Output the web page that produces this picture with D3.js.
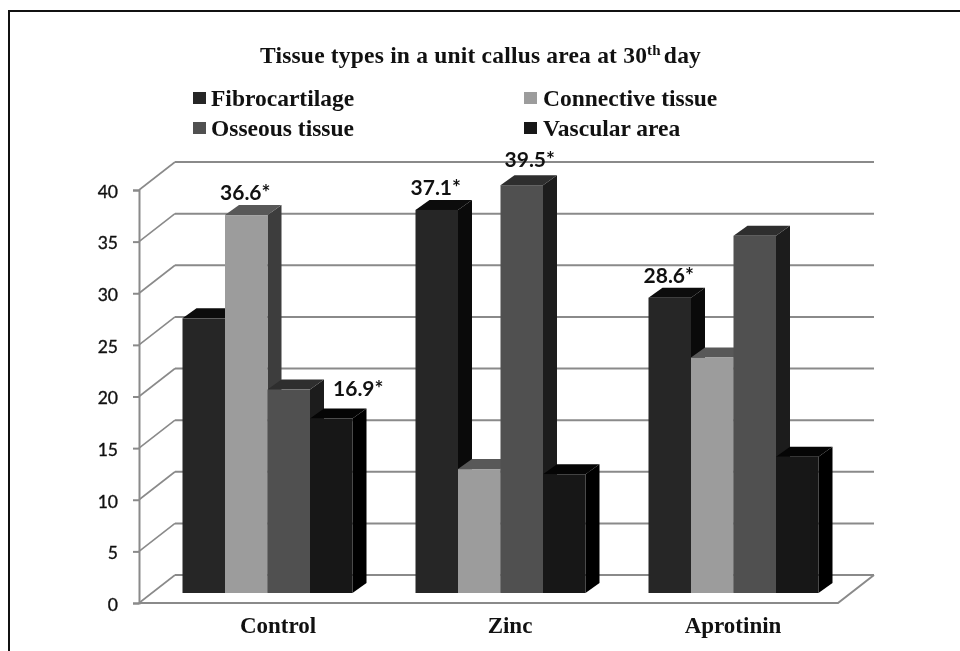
<!DOCTYPE html>
<html>
<head>
<meta charset="utf-8">
<script src="https://cdn.jsdelivr.net/npm/d3@7"></script>
<style>
  html, body { margin: 0; padding: 0; background: #fff; overflow: hidden; }
  svg { display: block; filter: blur(0.5px); }
  .serif { font-family: "Liberation Serif", serif; font-weight: bold; fill: #111; }
  .sans { font-family: Lato, "Open Sans", sans-serif; fill: #111; }
</style>
</head>
<body>
<div id="chart"></div>
<script>
var svgWidth = 960;
var svgHeight = 651;

// values
var categories = ["Control", "Zinc", "Aprotinin"];
var series = ["Fibrocartilage", "Connective tissue", "Osseous tissue", "Vascular area"];
var fibrocartilage = [26.6, 37.1, 28.6];
var connective = [36.6, 12, 22.8];
var osseous = [19.7, 39.5, 34.6];
var vascular = [16.9, 11.5, 13.2];
var seriesValues = [fibrocartilage, connective, osseous, vascular];
var yTicks = [0, 5, 10, 15, 20, 25, 30, 35, 40];
// which bars carry a value label: [category index, series index]
var starred = [[0, 1], [0, 3], [1, 0], [1, 2], [2, 0]];

var frontColors = ["#262626", "#9c9c9c", "#505050", "#171717"];
var topColors = ["#0c0c0c", "#585858", "#2e2e2e", "#050505"];
var sideColors = ["#0a0a0a", "#3d3d3d", "#1c1c1c", "#000000"];

// chart box on the front plane, and the depth of the walls and bars
var plot = { left: 139, right: 838, top: 190, bottom: 603 };
var wall = { dx: 36, dy: -28 };
var floorShift = { dx: 13.5, dy: -10 };
var barDepth = { dx: 14, dy: -10 };

var xScale = d3.scaleBand().domain(categories).range([plot.left, plot.right]);
var xInner = d3.scaleBand().domain(series).range([30, 200]);
var yScale = d3.scaleLinear().domain([0, 40]).range([plot.bottom, plot.top]);

var svg = d3.select("#chart")
    .append("svg")
    .attr("width", svgWidth)
    .attr("height", svgHeight);

// page frame, open on the right and at the bottom
svg.append("path")
    .attr("d", "M9,651V11H960")
    .attr("fill", "none")
    .attr("stroke", "#111")
    .attr("stroke-width", 2);

// title
var title = svg.append("text")
    .attr("class", "serif")
    .attr("x", 260)
    .attr("y", 63)
    .attr("font-size", 23.5)
    .attr("letter-spacing", 0.2);
title.append("tspan").text("Tissue types in a unit callus area at 30");
title.append("tspan").attr("dy", -8).attr("font-size", 15).text("th");
title.append("tspan").attr("dy", 8).attr("dx", 3).text("day");

// legend
var legend = svg.selectAll(".legend")
    .data(series)
    .enter()
    .append("g")
    .attr("class", "legend")
    .attr("transform", (d, i) => `translate(${i % 2 ? 524 : 193}, ${i < 2 ? 92 : 122})`);

legend.append("rect")
    .attr("width", 13)
    .attr("height", 12)
    .attr("fill", (d, i) => frontColors[i]);

legend.append("text")
    .attr("class", "serif")
    .attr("x", (d, i) => i % 2 ? 19 : 18)
    .attr("y", 14)
    .attr("font-size", 23.5)
    .text(d => d);

// back wall gridlines
svg.selectAll(".grid")
    .data(yTicks)
    .enter()
    .append("line")
    .attr("class", "grid")
    .attr("x1", plot.left + wall.dx)
    .attr("x2", plot.right + wall.dx)
    .attr("y1", d => yScale(d) + wall.dy)
    .attr("y2", d => yScale(d) + wall.dy)
    .attr("stroke", "#8a8a8a")
    .attr("stroke-width", 2);

// side wall diagonals
svg.selectAll(".diag")
    .data(yTicks)
    .enter()
    .append("line")
    .attr("class", "diag")
    .attr("x1", plot.left)
    .attr("x2", plot.left + wall.dx)
    .attr("y1", d => yScale(d))
    .attr("y2", d => yScale(d) + wall.dy)
    .attr("stroke", "#8a8a8a")
    .attr("stroke-width", 1.6);

// floor edge
svg.append("path")
    .attr("d", `M${plot.left},${plot.bottom}H${plot.right}L${plot.right + wall.dx},${plot.bottom + wall.dy}`)
    .attr("fill", "none")
    .attr("stroke", "#8a8a8a")
    .attr("stroke-width", 2);

// y axis
var leftAxis = d3.axisLeft(yScale).tickValues(yTicks).tickSize(6).tickPadding(15);
var axisGroup = svg.append("g")
    .attr("transform", `translate(${plot.left}, 0)`)
    .call(leftAxis);
axisGroup.selectAll("path, line").attr("stroke", "#8a8a8a").attr("stroke-width", 2);
axisGroup.selectAll("text")
    .attr("class", "sans")
    .attr("font-size", 17.5)
    .attr("font-family", null)
    .attr("dy", "0.42em")
    .attr("fill", "#111")
    .attr("stroke", "#111")
    .attr("stroke-width", 0.35);

// bars, left to right so each one covers the side of the previous one
var bars = [];
categories.forEach(function (cat, c) {
    series.forEach(function (name, s) {
        bars.push({ c: c, s: s, cat: cat, name: name, value: seriesValues[s][c] });
    });
});

function barBox(d) {
    var x = xScale(d.cat) + xInner(d.name) + floorShift.dx;
    return {
        x: x,
        w: xInner.bandwidth(),
        top: yScale(d.value) + floorShift.dy,
        base: yScale(0) + floorShift.dy
    };
}

var barGroups = svg.selectAll(".bar")
    .data(bars)
    .enter()
    .append("g")
    .attr("class", "bar");

barGroups.append("path")
    .attr("fill", d => sideColors[d.s])
    .attr("d", function (d) {
        var b = barBox(d), r = b.x + b.w;
        return `M${r},${b.top}l${barDepth.dx},${barDepth.dy}V${b.base + barDepth.dy}l${-barDepth.dx},${-barDepth.dy}Z`;
    });

barGroups.append("path")
    .attr("fill", d => topColors[d.s])
    .attr("d", function (d) {
        var b = barBox(d);
        return `M${b.x},${b.top}l${barDepth.dx},${barDepth.dy}h${b.w}l${-barDepth.dx},${-barDepth.dy}Z`;
    });

barGroups.append("rect")
    .attr("x", d => barBox(d).x)
    .attr("y", d => barBox(d).top)
    .attr("width", d => barBox(d).w)
    .attr("height", d => barBox(d).base - barBox(d).top)
    .attr("fill", d => frontColors[d.s]);

// value labels; the two that sit off their bar get a nudge
var nudge = { "0-3": [28, -8], "1-2": [9, -3] };
svg.selectAll(".valueLabel")
    .data(starred)
    .enter()
    .append("text")
    .attr("class", "sans valueLabel")
    .attr("font-weight", "bold")
    .attr("font-size", 21)
    .attr("text-anchor", "middle")
    .attr("x", function (d) {
        var b = barBox({ cat: categories[d[0]], name: series[d[1]], value: seriesValues[d[1]][d[0]] });
        return b.x + b.w / 2 - 1 + (nudge[d.join("-")] || [0, 0])[0];
    })
    .attr("y", function (d) {
        var b = barBox({ cat: categories[d[0]], name: series[d[1]], value: seriesValues[d[1]][d[0]] });
        return b.top - 15 + (nudge[d.join("-")] || [0, 0])[1];
    })
    .text(d => seriesValues[d[1]][d[0]] + "*");

// category labels
var labelShift = [22.5, 21.5, 11.5];
svg.selectAll(".catLabel")
    .data(categories)
    .enter()
    .append("text")
    .attr("class", "serif catLabel")
    .attr("text-anchor", "middle")
    .attr("font-size", 23)
    .attr("x", (d, i) => xScale(d) + xScale.bandwidth() / 2 + labelShift[i])
    .attr("y", 633)
    .text(d => d);
</script>
</body>
</html>
